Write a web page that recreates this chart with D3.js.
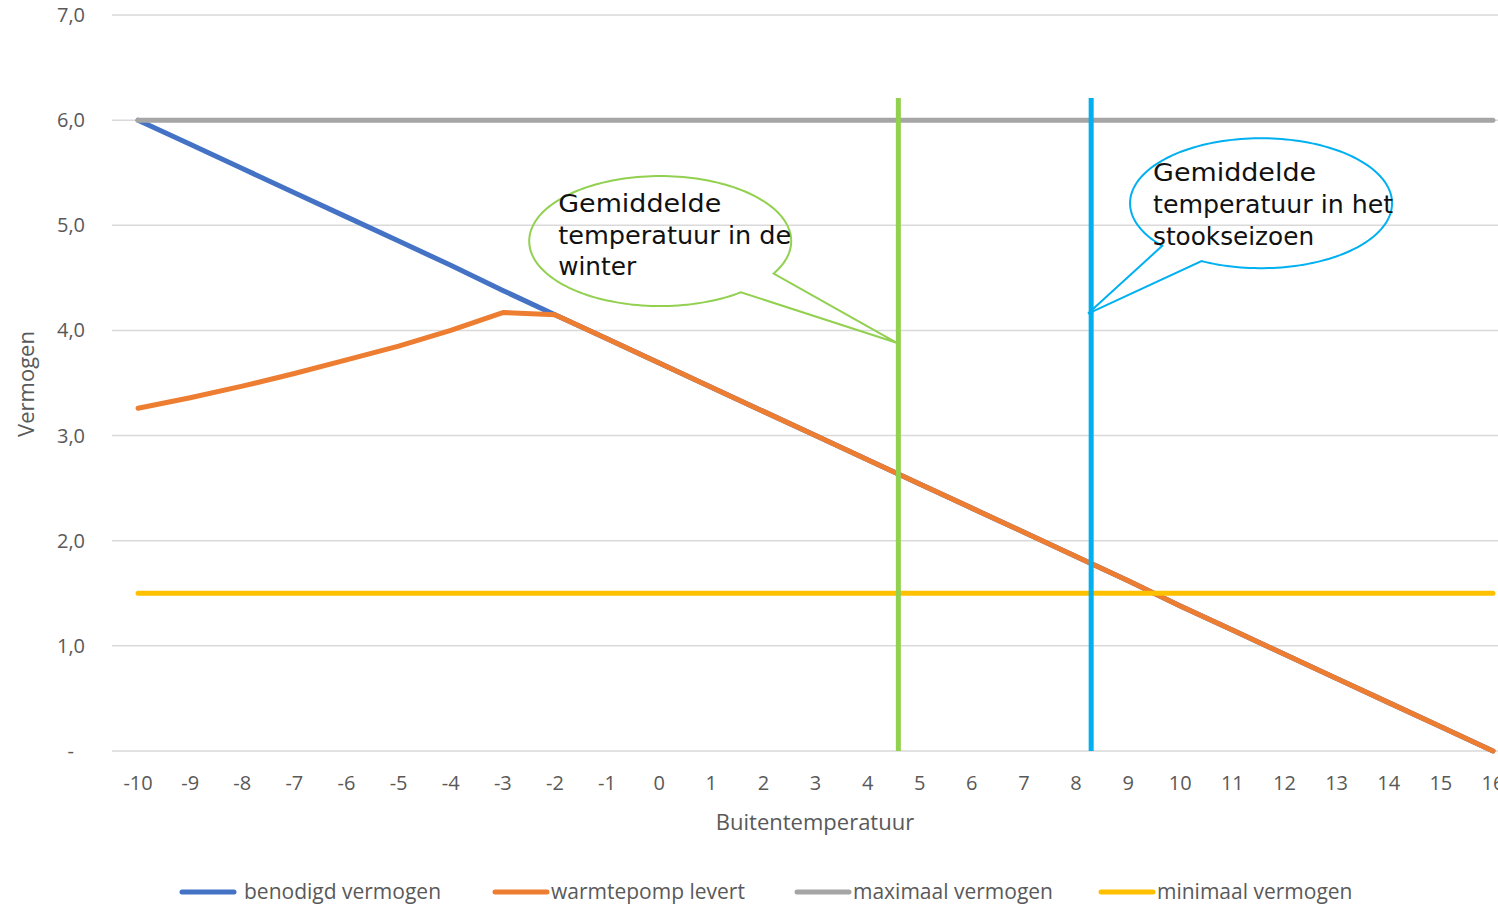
<!DOCTYPE html>
<html>
<head>
<meta charset="utf-8">
<script src="https://cdn.jsdelivr.net/npm/d3@7"></script>
<style>
  html, body { margin: 0; padding: 0; background: #fff; overflow: hidden; }
  svg { display: block; }
</style>
</head>
<body>
<svg id="chart" width="1498" height="905"></svg>
<script>
// ---------- data ----------
const temps = [-10,-9,-8,-7,-6,-5,-4,-3,-2,-1,0,1,2,3,4,5,6,7,8,9,10,11,12,13,14,15,16];
const benodigd = [6.00,5.77,5.54,5.31,5.08,4.85,4.62,4.38,4.15,3.92,3.69,3.46,3.23,3.00,2.77,2.54,2.31,2.08,1.85,1.62,1.38,1.15,0.92,0.69,0.46,0.23,0.00];
const warmtepomp = [3.26,3.36,3.47,3.59,3.72,3.85,4.00,4.17,4.15,3.92,3.69,3.46,3.23,3.00,2.77,2.54,2.31,2.08,1.85,1.62,1.38,1.15,0.92,0.69,0.46,0.23,0.00];
const maximaal = [6,6,6,6,6,6,6,6,6,6,6,6,6,6,6,6,6,6,6,6,6,6,6,6,6,6,6];
const minimaal = [1.5,1.5,1.5,1.5,1.5,1.5,1.5,1.5,1.5,1.5,1.5,1.5,1.5,1.5,1.5,1.5,1.5,1.5,1.5,1.5,1.5,1.5,1.5,1.5,1.5,1.5,1.5];
const seriesNames = ["benodigd vermogen","warmtepomp levert","maximaal vermogen","minimaal vermogen"];
const yTicks = [0,1,2,3,4,5,6,7];
const yTickLabels = ["-","1,0","2,0","3,0","4,0","5,0","6,0","7,0"];
const xTitle = "Buitentemperatuur";
const yTitle = "Vermogen";
// reference temperatures (vertical markers), value range of marker
const markerTemps = [4.59, 8.29];
const markerTop = 6.21;
// callouts (data coordinates)
const calloutLines = [
  ["Gemiddelde","temperatuur in de","winter"],
  ["Gemiddelde","temperatuur in het","stookseizoen"]
];
const calloutCenter = [[0.02, 4.85],[11.55, 5.21]];
const calloutTip = [[4.57, 3.88],[8.23, 4.16]];

// ---------- styles ----------
const colors = ["#4472C4","#ED7D31","#A5A5A5","#FFC000"];
const markerColors = ["#92D050","#00B0F0"];
const axisColor = "#595959";
const font = "'Open Sans', 'Liberation Sans', sans-serif";

const svg = d3.select("#chart");
const plot = {left: 112, right: 1519, top: 15, bottom: 751};

const x = d3.scalePoint().domain(temps).range([plot.left, plot.right]).padding(0.5);
const xl = d3.scaleLinear().domain([temps[0], temps[temps.length-1]]).range([x(temps[0]), x(temps[temps.length-1])]);
const y = d3.scaleLinear().domain([0,7]).range([plot.bottom, plot.top]);

// gridlines
svg.append("g").selectAll("line").data(yTicks).join("line")
  .attr("x1", plot.left).attr("x2", plot.right)
  .attr("y1", d => y(d)).attr("y2", d => y(d))
  .attr("stroke", "#D9D9D9").attr("stroke-width", 1.5);

// y tick labels
svg.append("g").selectAll("text").data(yTicks).join("text")
  .attr("x", (d,i) => i === 0 ? 74 : 85)
  .attr("y", d => y(d))
  .attr("dy", "0.35em")
  .attr("text-anchor", "end")
  .attr("font-family", font).attr("font-size", 20).attr("fill", axisColor)
  .text((d,i) => yTickLabels[i]);

// x tick labels
svg.append("g").selectAll("text").data(temps).join("text")
  .attr("x", d => x(d))
  .attr("y", 783)
  .attr("dy", "0.35em")
  .attr("text-anchor", "middle")
  .attr("font-family", font).attr("font-size", 20).attr("fill", axisColor)
  .text(d => d);

// axis titles
svg.append("text")
  .attr("x", 815).attr("y", 822).attr("dy", "0.35em")
  .attr("text-anchor", "middle")
  .attr("font-family", font).attr("font-size", 22).attr("fill", axisColor)
  .text(xTitle);
svg.append("text")
  .attr("transform", "translate(26,384) rotate(-90)")
  .attr("dy", "0.35em")
  .attr("text-anchor", "middle")
  .attr("font-family", font).attr("font-size", 22).attr("fill", axisColor)
  .text(yTitle);

// series lines
const allSeries = [benodigd, warmtepomp, maximaal, minimaal];
const line = d3.line().x((d,i) => x(temps[i])).y(d => y(d));
svg.append("g").selectAll("path").data(allSeries).join("path")
  .attr("d", d => line(d))
  .attr("fill", "none")
  .attr("stroke", (d,i) => colors[i])
  .attr("stroke-width", 5)
  .attr("stroke-linecap", "round")
  .attr("stroke-linejoin", "round");

// vertical markers
svg.append("g").selectAll("line").data(markerTemps).join("line")
  .attr("x1", d => xl(d)).attr("x2", d => xl(d))
  .attr("y1", y(markerTop)).attr("y2", y(0))
  .attr("stroke", (d,i) => markerColors[i])
  .attr("stroke-width", 5);

// callouts
const rxPx = 131, ryPx = 65;
const tailAngles = [[30, 52],[117, 139]];
const textOffsets = [[-102, [-29, 3, 34]], [-108, [-22, 10, 42]]];
const textWidths = [[163, 233, 78],[163, 240, 161]];
calloutLines.forEach((lines, k) => {
  const cx = xl(calloutCenter[k][0]), cy = y(calloutCenter[k][1]);
  const tip = [xl(calloutTip[k][0]), y(calloutTip[k][1])];
  const [a1, a2] = tailAngles[k];
  const pts = [];
  for (let a = a2; a <= a1 + 360 + 0.01; a += 2) {
    const r = a * Math.PI / 180;
    pts.push([cx + rxPx * Math.cos(r), cy + ryPx * Math.sin(r)]);
  }
  const rEnd = (a1 + 360) * Math.PI / 180;
  pts.push([cx + rxPx * Math.cos(rEnd), cy + ryPx * Math.sin(rEnd)]);
  pts.push(tip);
  svg.append("path")
    .attr("d", d3.line()(pts) + "Z")
    .attr("fill", "none")
    .attr("stroke", markerColors[k])
    .attr("stroke-width", 2)
    .attr("stroke-linejoin", "miter");
  const [dx, dys] = textOffsets[k];
  lines.forEach((t, j) => {
    svg.append("text")
      .attr("x", cx + dx).attr("y", cy + dys[j])
      .attr("font-family", "'DejaVu Sans', sans-serif")
      .attr("font-size", 24)
      .attr("fill", "#111")
      .attr("textLength", textWidths[k][j])
      .attr("lengthAdjust", "spacingAndGlyphs")
      .text(t);
  });
});

// legend
const legendX = [180, 493, 795, 1099];
const lg = svg.append("g").selectAll("g").data(seriesNames).join("g")
  .attr("transform", (d,i) => `translate(${legendX[i]},892)`);
lg.append("line")
  .attr("x1", 2).attr("x2", 54).attr("y1", 0).attr("y2", 0)
  .attr("stroke", (d,i) => colors[i]).attr("stroke-width", 5).attr("stroke-linecap", "round");
lg.append("text")
  .attr("x", (d,i) => i === 0 ? 64 : 58).attr("y", 0).attr("dy", "0.35em")
  .attr("font-family", font).attr("font-size", 21).attr("fill", axisColor)
  .text(d => d);
</script>
</body>
</html>
